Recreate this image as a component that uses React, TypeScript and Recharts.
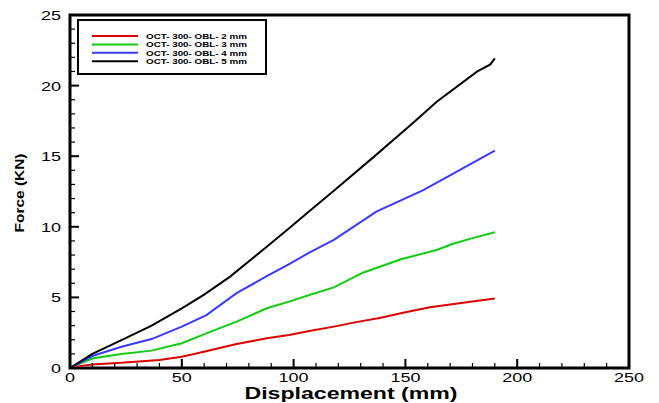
import { LineChart, Line, XAxis, YAxis, ReferenceArea, Legend, Label } from 'recharts';

// displacement (mm) / force (kN)
const disp2 = [0, 5, 10, 23, 40, 50, 58, 66, 74.5, 88, 98, 107, 118, 128, 139, 150, 161, 175, 190];
const force2 = [0, 0.15, 0.25, 0.38, 0.57, 0.8, 1.08, 1.38, 1.7, 2.1, 2.33, 2.62, 2.93, 3.25, 3.56, 3.95, 4.3, 4.6, 4.93];

const disp3 = [0, 5, 10.4, 23, 36.5, 50, 61, 74.5, 88, 98, 107, 118, 131, 148, 164, 171, 180, 190];
const force3 = [0, 0.35, 0.69, 0.99, 1.23, 1.75, 2.45, 3.28, 4.23, 4.7, 5.17, 5.71, 6.75, 7.7, 8.36, 8.78, 9.2, 9.61];

const disp4 = [0, 10, 23, 36.5, 50, 61, 74.5, 88, 98, 107, 118, 137, 158, 173, 190];
const force4 = [0, 0.85, 1.51, 2.05, 2.93, 3.75, 5.3, 6.5, 7.35, 8.17, 9.07, 11.07, 12.6, 13.9, 15.39];

const disp5 = [0, 10, 23, 36.5, 50, 60, 71.6, 85, 98, 107, 118, 136, 154, 164, 182, 188, 190];
const force5 = [0, 1.0, 1.98, 3.0, 4.23, 5.2, 6.47, 8.2, 9.9, 11.1, 12.55, 14.97, 17.44, 18.86, 20.99, 21.5, 21.93];

const seriesNames = ['OCT- 300- OBL- 2 mm', 'OCT- 300- OBL- 3 mm', 'OCT- 300- OBL- 4 mm', 'OCT- 300- OBL- 5 mm'];
const seriesColors = ['#dd0000', '#11cc11', '#3a3aff', '#000000'];

const xTicks = [0, 10, 20, 30, 40, 50, 60, 70, 80, 90, 100, 110, 120, 130, 140, 150, 160, 170, 180, 190, 200, 210, 220, 230, 240, 250];
const yTicks = [0, 1, 2, 3, 4, 5, 6, 7, 8, 9, 10, 11, 12, 13, 14, 15, 16, 17, 18, 19, 20, 21, 22, 23, 24, 25];

const toPoints = (xs: number[], ys: number[]) => xs.map((d, i) => ({ d, f: ys[i] }));
const series = [
  toPoints(disp2, force2),
  toPoints(disp3, force3),
  toPoints(disp4, force4),
  toPoints(disp5, force5),
];

const FONT = '"Liberation Sans", Arial, sans-serif';

const XTick = (props: any) => {
  const { x, y, payload } = props;
  const v = payload.value;
  const major = v % 50 === 0;
  const s = String(v);
  return (
    <g>
      <line x1={x} x2={x} y1={y} y2={y - (major ? 9 : 5)} stroke="#000" strokeWidth={major ? 2 : 1.2} />
      {major && (
        <text x={x} y={y + 14} textAnchor="middle" fontSize={12} fontFamily={FONT} fill="#000"
          textLength={s.length * 10} lengthAdjust="spacingAndGlyphs">{s}</text>
      )}
    </g>
  );
};

const YTick = (props: any) => {
  const { x, y, payload } = props;
  const v = payload.value;
  const major = v % 5 === 0;
  const s = String(v);
  return (
    <g>
      <line x1={x} x2={x + (major ? 9 : 5)} y1={y} y2={y} stroke="#000" strokeWidth={major ? 2 : 1.2} />
      {major && (
        <text x={x - 9} y={y + 5} textAnchor="end" fontSize={13} fontFamily={FONT} fill="#000"
          textLength={s.length * 10} lengthAdjust="spacingAndGlyphs">{s}</text>
      )}
    </g>
  );
};

const XLabel = () => (
  <text x={351} y={399} textAnchor="middle" fontSize={16} fontWeight="bold" fontFamily={FONT}
    textLength={213} lengthAdjust="spacingAndGlyphs" fill="#000">Displacement (mm)</text>
);

const YLabel = () => (
  <text x={24} y={193} textAnchor="middle" fontSize={13} fontWeight="bold" fontFamily={FONT}
    transform="rotate(-90, 24, 193)" textLength={79} lengthAdjust="spacingAndGlyphs" fill="#000">Force (KN)</text>
);

const LegendBox = () => (
  <svg width={190} height={56} style={{ display: 'block' }}>
    <rect x={1} y={1} width={188} height={54} fill="#fff" stroke="#000" strokeWidth={2} />
    {seriesNames.map((name, i) => {
      const cy = 17 + i * 8.4;
      return (
        <g key={name}>
          <line x1={15} x2={61} y1={cy} y2={cy} stroke={seriesColors[i]} strokeWidth={2} />
          <text x={69} y={cy + 3} fontSize={8} fontWeight="bold" fontFamily={FONT} fill="#000"
            textLength={101} lengthAdjust="spacingAndGlyphs">{name}</text>
        </g>
      );
    })}
  </svg>
);

export default function App() {
  return (
    <div style={{ position: 'absolute', left: 0, top: 0, background: '#fff' }}>
      <LineChart width={659} height={403} margin={{ top: 15, right: 30, bottom: 0, left: 0 }}>
        <XAxis type="number" dataKey="d" domain={[0, 250]} ticks={xTicks} interval={0}
          height={35} tickSize={0} tickMargin={0} axisLine={false} tick={<XTick />}>
          <Label content={XLabel} />
        </XAxis>
        <YAxis type="number" dataKey="f" domain={[0, 25]} ticks={yTicks} interval={0}
          width={70} tickSize={0} tickMargin={0} axisLine={false} tick={<YTick />}>
          <Label content={YLabel} />
        </YAxis>
        <ReferenceArea x1={0} x2={250} y1={0} y2={25} fill="none" stroke="#000" strokeWidth={3} />
        {series.map((pts, i) => (
          <Line key={seriesNames[i]} data={pts} dataKey="f" name={seriesNames[i]} type="linear"
            stroke={seriesColors[i]} strokeWidth={2} dot={false} activeDot={false} isAnimationActive={false} />
        ))}
        <Legend layout="horizontal" verticalAlign="middle" align="center" content={LegendBox}
          wrapperStyle={{ position: 'absolute', left: 77, top: 19, width: 190, height: 56 }} />
      </LineChart>
    </div>
  );
}
